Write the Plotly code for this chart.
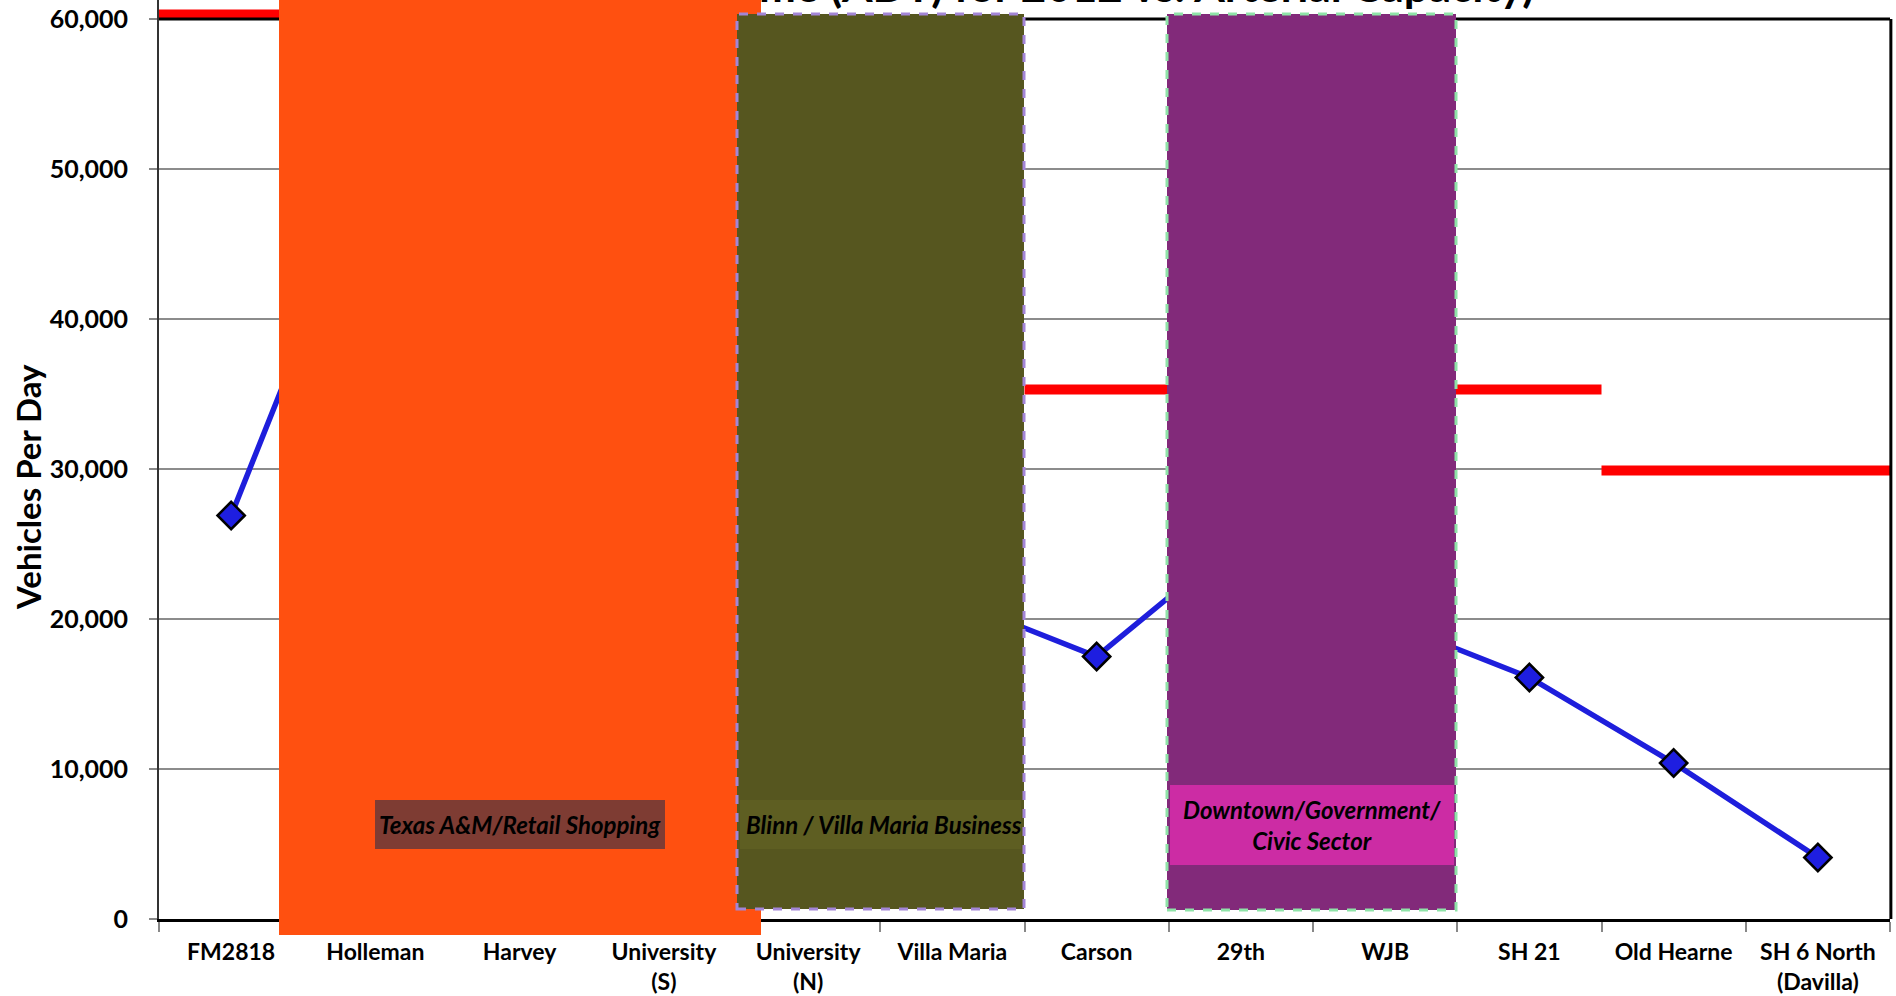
import plotly.graph_objects as go

# ---------------- data ----------------
categories = ["FM2818", "Holleman", "Harvey", "University<br>(S)", "University<br>(N)",
              "Villa Maria", "Carson", "29th", "WJB", "SH 21", "Old Hearne",
              "SH 6 North<br>(Davilla)"]
adt_2012 = [26900, 51000, 47000, 42000, 30000, 21300, 17500, 25400, 19900, 16100, 10400, 4100]

cap_start_idx = [0, 6, 10]
cap_end_idx = [3, 9, 11]
cap_values = [60300, 35300, 29900]

y_ticks = [0, 10000, 20000, 30000, 40000, 50000, 60000]
y_tick_text = ["0", "10,000", "20,000", "30,000", "40,000", "50,000", "60,000"]

title_text = "(Daily Traffic Volume (ADT) for 2012 vs. Arterial Capacity)"
y_title = "Vehicles Per Day"
zone_labels = ["Texas A&M/Retail Shopping", "Blinn / Villa Maria Business",
               "Downtown/Government/<br>Civic Sector"]

# ---------------- layout constants ----------------
W, H = 1896, 996
ML, MR, MT, MB = 159, 6, 0, 77
PW, PH = W - ML - MR, H - MT - MB
Y_TOP_PX = 19  # pixel row where 60,000 sits
YMAX = 60000 * PH / (PH - Y_TOP_PX)
FONT = "Lato"
ORANGE = "#FF5010"


def px_x(p):
    return (p - ML) / PW


def px_y(p):
    return (MT + PH - p) / PH


fig = go.Figure()

# capacity (red step lines)
for s, e, v in zip(cap_start_idx, cap_end_idx, cap_values):
    fig.add_trace(go.Scatter(x=[s - 0.5, e + 0.5], y=[v, v], mode="lines",
                             line=dict(color="#FF0000", width=10),
                             hoverinfo="skip", showlegend=False))

# ADT line
fig.add_trace(go.Scatter(x=list(range(len(categories))), y=adt_2012, mode="lines+markers",
                         line=dict(color="#1E1EDC", width=5.5),
                         marker=dict(symbol="diamond", size=21, color="#1E1EE0",
                                     line=dict(color="black", width=2.5)),
                         showlegend=False))

shapes = []
y60 = 60000 / YMAX
# frame top & right
shapes.append(dict(type="line", xref="paper", yref="paper", x0=0, x1=1, y0=y60, y1=y60,
                   line=dict(color="black", width=3), layer="above"))
shapes.append(dict(type="line", xref="paper", yref="paper", x0=1.0005, x1=1.0005, y0=0, y1=y60,
                   line=dict(color="black", width=3), layer="above"))

# zone boxes
shapes.append(dict(type="rect", xref="paper", yref="paper",
                   x0=px_x(279), x1=px_x(761), y0=px_y(935), y1=px_y(0) + 0.01,
                   fillcolor=ORANGE, line=dict(width=0), layer="above"))
shapes.append(dict(type="rect", xref="paper", yref="paper",
                   x0=px_x(737), x1=px_x(1024), y0=px_y(909), y1=px_y(14),
                   fillcolor="#56561F", line=dict(color="#A385D6", width=3, dash="dash"),
                   layer="above"))
shapes.append(dict(type="rect", xref="paper", yref="paper",
                   x0=px_x(1167), x1=px_x(1456), y0=px_y(910), y1=px_y(14),
                   fillcolor="#822A7A", line=dict(color="#8FE3A8", width=3, dash="dash"),
                   layer="above"))
# label boxes
shapes.append(dict(type="rect", xref="paper", yref="paper",
                   x0=px_x(375), x1=px_x(665), y0=px_y(849), y1=px_y(800),
                   fillcolor="#7E3C33", line=dict(width=0), layer="above"))
shapes.append(dict(type="rect", xref="paper", yref="paper",
                   x0=px_x(740), x1=px_x(1021), y0=px_y(849), y1=px_y(800),
                   fillcolor="#5E5E22", line=dict(width=0), layer="above"))
shapes.append(dict(type="rect", xref="paper", yref="paper",
                   x0=px_x(1170), x1=px_x(1454), y0=px_y(865), y1=px_y(785),
                   fillcolor="#CC2CA4", line=dict(width=0), layer="above"))

annotations = [
    dict(text="<b><i>" + zone_labels[0] + "</i></b>", x=px_x(520), y=px_y(824),
         xref="paper", yref="paper", showarrow=False,
         font=dict(family=FONT, size=24, color="black"), xanchor="center", yanchor="middle"),
    dict(text="<b><i>" + zone_labels[1] + "</i></b>", x=px_x(884), y=px_y(824),
         xref="paper", yref="paper", showarrow=False,
         font=dict(family=FONT, size=24, color="black"), xanchor="center", yanchor="middle"),
    dict(text="<b><i>" + zone_labels[2] + "</i></b>", x=px_x(1312), y=px_y(825),
         xref="paper", yref="paper", showarrow=False,
         font=dict(family=FONT, size=24, color="black"), xanchor="center", yanchor="middle"),
    dict(text="<b>" + y_title + "</b>", x=px_x(28), y=px_y(487), xref="paper", yref="paper",
         showarrow=False, textangle=-90, font=dict(family=FONT, size=33, color="black"),
         xanchor="center", yanchor="middle"),
    # chart title (mostly hidden above the picture / behind the orange zone)
    dict(text="<b>" + title_text + "</b>", x=px_x(1536), y=px_y(-15), xref="paper", yref="paper",
         showarrow=False, font=dict(family=FONT, size=44, color="black"),
         xanchor="right", yanchor="middle"),
    # top of the orange zone, which in the original sits over the title
    dict(text="", x=px_x(520), y=px_y(6), xref="paper", yref="paper", showarrow=False,
         width=482, height=13, bgcolor=ORANGE, borderpad=0, borderwidth=0,
         xanchor="center", yanchor="middle"),
]

fig.update_layout(
    width=W, height=H,
    margin=dict(l=ML, r=MR, t=MT, b=MB, pad=0, autoexpand=False),
    paper_bgcolor="white", plot_bgcolor="white",
    shapes=shapes, annotations=annotations,
    showlegend=False,
    xaxis=dict(range=[-0.5, len(categories) - 0.5], tickmode="array", automargin=False,
               tickvals=list(range(len(categories))), ticktext=["<b>" + c + "</b>" for c in categories],
               ticks="", showgrid=False, zeroline=False,
               showline=True, linecolor="black", linewidth=3,
               tickfont=dict(family=FONT, size=23, color="black"),
               ticklabelstandoff=10,
               minor=dict(tickmode="array", tickvals=[i - 0.5 for i in range(len(categories) + 1)],
                          ticks="outside", ticklen=10, tickcolor="#888888", tickwidth=1.5,
                          showgrid=False)),
    yaxis=dict(range=[0, YMAX], tickmode="array", tickvals=y_ticks, automargin=False,
               ticktext=["<b>" + t + "</b>" for t in y_tick_text],
               ticks="outside", ticklen=8, tickcolor="#888888", tickwidth=1.5,
               showgrid=True, gridcolor="#8C8C8C", gridwidth=1.5, zeroline=False,
               showline=True, linecolor="#333333", linewidth=2,
               tickfont=dict(family=FONT, size=25, color="black"),
               ticklabelstandoff=16),
)

fig.write_html("out.html")
